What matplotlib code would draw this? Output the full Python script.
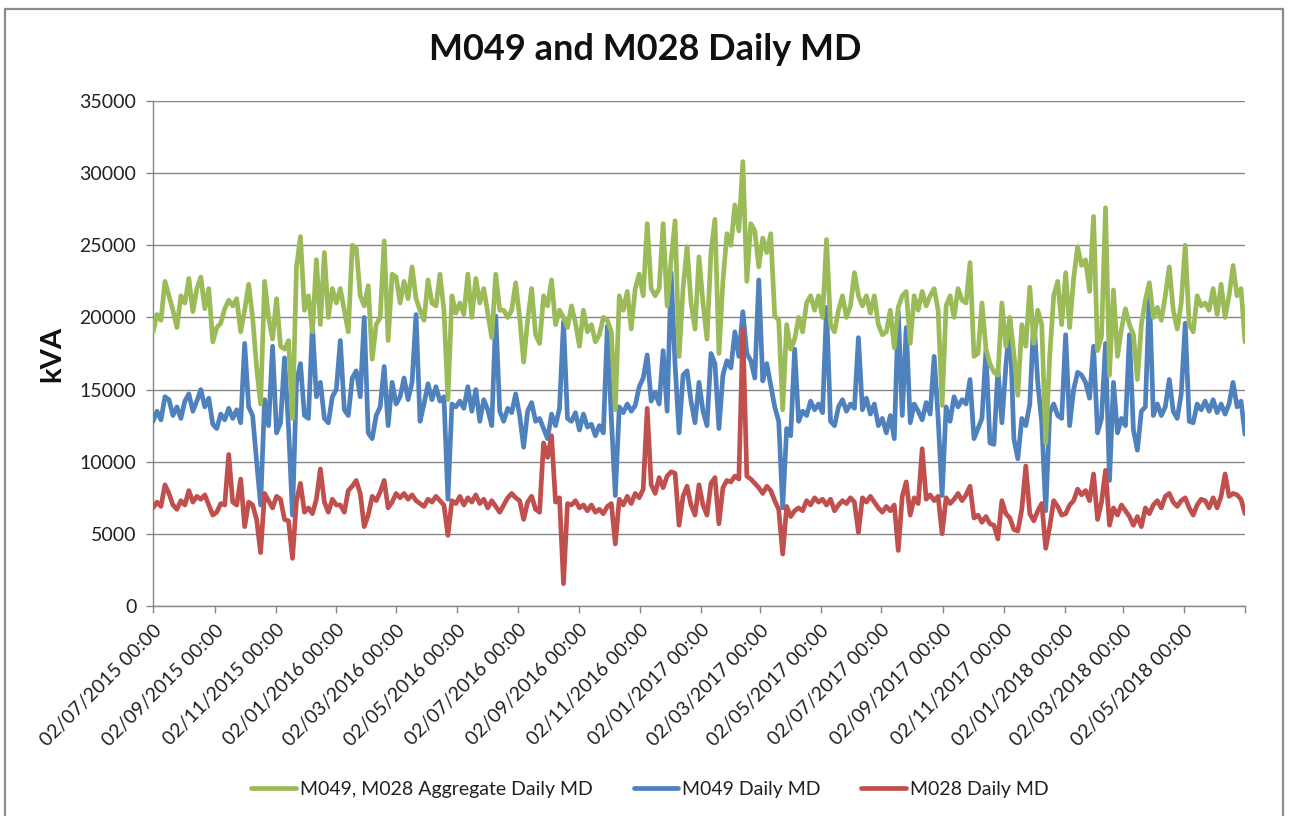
import matplotlib
matplotlib.use("Agg")
import matplotlib.pyplot as plt
import matplotlib.dates as mdates
import pandas as pd
from matplotlib.patches import Rectangle

plt.rcParams['font.family'] = ['Lato', 'DejaVu Sans']

# ---- data (kVA), one sample every 4 days starting 02/07/2015 ----
start_date = "2015-07-02"
end_date = "2018-07-02"
sample_step = "4D"

aggregate_md = [
    19000, 20200, 19800, 22500, 21500, 20500, 19300, 21500, 21000, 22700,
    20400, 22000, 22800, 20600, 22000, 18300, 19300, 19600, 20600, 21200,
    20800, 21300, 19000, 20500, 22300, 20000, 16500, 14000, 22500, 20000,
    18500, 21300, 18000, 17800, 18400, 13000, 23500, 25600, 20500, 21500,
    19000, 24000, 19500, 24500, 20000, 22000, 21000,
    22000, 20500, 19000, 25000, 24800, 21500, 20800, 22200, 17100, 19500,
    20000, 25300, 18400, 23000, 22800, 21000, 22500, 21300, 23500, 21300,
    20500, 19800, 22600, 21000, 20800, 23000, 20500, 14300, 21500, 20300,
    21000, 20200, 23000, 20000, 22700, 21000, 22000, 20300, 18600, 23000,
    20500, 20500, 20000, 20500,
    22400, 20000, 16900, 19800, 22000, 18800, 18200, 21500, 20800, 22600,
    19500, 20500, 20000, 19300, 20800, 19600, 18000, 20500, 19000, 19500,
    18300, 18800, 20000, 19800, 19000, 13600, 21500, 20500, 21800, 19200,
    22000, 23000, 21500, 26500, 22000, 21500, 22000, 26500, 20800, 24000,
    26700, 17300, 22000, 24900, 21000, 19200,
    24200, 21000, 18500, 24500, 26800, 17500, 22500, 25800, 25000, 27800,
    26000, 30800, 22500, 26500, 26000, 23500, 25500, 24500, 25800, 20100,
    19800, 13600, 19500, 17800, 18500, 20000, 19000, 21000, 21500, 20500,
    21500, 20000, 25400, 19500, 19000, 20500, 21500, 20000, 20800, 23100,
    21500, 20800, 21500, 20300,
    21500, 19500, 18800, 19000, 20500, 17900, 20700, 21500, 21800, 18200,
    21500, 20500, 21800, 20800, 21500, 22000, 20500, 13900, 20800, 21500,
    20000, 22000, 21200, 21000, 23800, 17300, 17500, 21000, 17800, 16800,
    16200, 16000, 21000, 18000, 20000, 17500, 14600, 19500, 18000, 22100,
    18200, 20500, 19500, 11300, 17300,
    21500, 22500, 19500, 23100, 19300, 22700, 24900, 23600, 24000, 21800,
    27000, 17700, 18700, 27600, 16000, 21900, 17300, 19200, 20600, 19500,
    18800, 15700, 19500, 21200, 22400, 20000, 20700, 19800, 21500, 23500,
    20500, 19200, 21000, 25000, 19500, 19000, 21500, 20800, 21000, 20500,
    22000, 20200, 22300, 20000, 21500, 23600, 21500, 22000, 18300,
]

m049_md = [
    12800, 13500, 12900, 14500, 14300, 13200, 13800, 13000, 14200, 14700,
    13500, 14200, 15000, 13800, 14400, 12600, 12300, 13300, 12900, 13700,
    13000, 13600, 12700, 18200, 13800, 13200, 10000, 7000, 14300, 12500,
    18000, 12000, 12700, 17200, 12400, 6300, 15500, 16800, 13200, 13000,
    19500, 14500, 15500, 13000, 12700, 14500, 15000,
    18400, 13600, 13200, 15800, 16300, 14500, 20000, 12000, 11600, 13200,
    13800, 16600, 12500, 15500, 14000, 14500, 15800, 14300, 15500, 20200,
    12800, 14000, 15400, 14300, 15200, 14200, 14500, 7400, 14000, 13800,
    14200, 13700, 15200, 13500, 15000, 12800, 14300, 13600, 12500, 20100,
    13500, 12800, 13700, 13400,
    14700, 13200, 11000, 13500, 14100, 12800, 13000, 12300, 11600, 13300,
    12500, 13700, 19700, 13000, 12800, 13400, 12200, 13300, 12400, 12600,
    11800, 12500, 12000, 19400, 13000, 7650, 13800, 13400, 14000, 13500,
    13900, 15200, 15800, 17400, 14200, 14800, 14000, 17700, 13500, 23100,
    16700, 12000, 16000, 16300, 14200, 12700,
    15500, 13500, 12500, 17500, 16800, 12300, 16000, 17000, 16500, 19000,
    17300, 20400, 17500, 17000, 15800, 22600, 15600, 16800, 15300, 13800,
    12800, 6800, 12300, 11800, 17800, 12800, 13500, 13200, 14200, 13600,
    14000, 13400, 20700, 12800, 12500, 13800, 14300, 13500, 14000, 13700,
    18600, 13600, 14400, 13300,
    14000, 12500, 13000, 12000, 13200, 11600, 20400, 13200, 19300, 12700,
    14000, 13500, 12900, 14100, 13300, 17300, 13000, 7650, 13800, 12800,
    14500, 13800, 14300, 14000, 15700, 11600, 12300, 13000, 17700, 11300,
    11200, 16400, 12700, 16600, 19900, 11600, 10200, 13000, 12500, 14000,
    19900, 15500, 12700, 6600, 13400,
    14000, 13200, 13000, 18800, 12500, 15000, 16200, 16000, 15500, 14400,
    18000, 12000, 13000, 18200, 8700, 15500, 12000, 13000, 12500, 18800,
    12200, 10800, 13500, 13800, 21800, 13200, 14000, 13200, 13800, 15700,
    13500, 13000, 14700, 19600, 12800, 12700, 14000, 13600, 14200, 13500,
    14300, 13400, 14000, 13300, 14000, 15500, 13800, 14200, 11900,
]

m028_md = [
    6800, 7200, 6900, 8400, 7800, 7000, 6700, 7300, 7000, 8000,
    7200, 7600, 7400, 7700, 7000, 6300, 6500, 7100, 7000, 10500,
    7200, 7000, 8800, 5500, 7200, 7000, 6000, 3700, 7800, 7300,
    6800, 7600, 7400, 6000, 5900, 3300, 7300, 8500, 6500, 6800,
    6400, 7400, 9500, 7200, 6500, 7400, 7000,
    7000, 6500, 8000, 8300, 8700, 7800, 5500, 6300, 7600, 7300,
    7900, 8700, 6800, 7200, 7800, 7500, 7800, 7400, 7700, 7300,
    7100, 6900, 7400, 7200, 7600, 7300, 7000, 4900, 7300, 7100,
    7600, 7000, 7500, 7200, 7700, 7100, 7400, 6800, 7300, 6900,
    6500, 7000, 7500, 7800,
    7500, 7300, 6000, 7200, 7600, 6700, 6500, 11300, 10300, 11800,
    7200, 7500, 1550, 7100, 7000, 7300, 6800, 7000, 6600, 7000,
    6500, 6700, 6400, 6900, 7100, 4300, 7400, 7000, 7600, 7100,
    7800, 7500, 8100, 13700, 8400, 7800, 8900, 8200, 9000, 9300,
    9200, 5600, 7600, 8300, 7000, 6300,
    8400, 7000, 6300, 8500, 8900, 5700, 8200, 8700, 8600, 9000,
    8800, 19200, 9000, 8800, 8500, 8200, 7800, 8300, 8000, 7300,
    6700, 3600, 6900, 6200, 6600, 6800, 6600, 7300, 7000, 7500,
    7200, 7400, 7000, 7400, 6600, 7000, 7300, 7100, 7500, 7200,
    5100, 7500, 7200, 7600,
    7200, 6800, 6500, 6900, 6600, 7000, 3850, 7600, 8600, 6300,
    7500, 7100, 10900, 7400, 7700, 7300, 7600, 5000, 7500, 7100,
    7400, 7800, 7300, 7700, 8300, 6100, 6300, 5800, 6200, 5700,
    5600, 4650, 7300, 6400, 6100, 5300, 5200, 6700, 9700, 6400,
    5900, 6600, 7100, 4000, 5500,
    7300, 6900, 6300, 6400, 7000, 7300, 8100, 7700, 8000, 7300,
    9150, 6000, 7200, 9400, 5600, 6800, 6300, 7000, 6600, 6200,
    5600, 6200, 5500, 6800, 6400, 7000, 7300, 6800, 7600, 7800,
    7200, 6900, 7300, 7500, 6800, 6300, 7000, 7400, 7300, 6800,
    7500, 6800, 7600, 9150, 7600, 7800, 7700, 7400, 6400,
]

series_names = ["M049, M028 Aggregate Daily MD", "M049 Daily MD", "M028 Daily MD"]
series_colors = ["#9BBB59", "#4F81BD", "#C0504D"]
y_ticks = [0, 5000, 10000, 15000, 20000, 25000, 30000, 35000]
title_text = "M049 and M028 Daily MD"
y_label = "kVA"

# ---- figure ----
W, H = 1290, 816
fig = plt.figure(figsize=(W / 100, H / 100), dpi=100)
fig.patch.set_facecolor("white")
fig.patches.append(Rectangle((5 / W, -0.02), (1283 - 5) / W, 1.02 - 9 / H,
                             transform=fig.transFigure, fill=False,
                             edgecolor="#8c8c8c", linewidth=1.6))

ax = fig.add_axes([153 / W, 1 - 606 / H, (1245 - 153) / W, (606 - 101) / H])

def dates_for(vals):
    return pd.date_range(start_date, periods=len(vals), freq=sample_step)

lw = 3.4
l_blue, = ax.plot(dates_for(m049_md), m049_md, color=series_colors[1], lw=lw,
                  zorder=3, solid_joinstyle="round", solid_capstyle="round")
l_red, = ax.plot(dates_for(m028_md), m028_md, color=series_colors[2], lw=lw,
                 zorder=4, solid_joinstyle="round", solid_capstyle="round")
l_green, = ax.plot(dates_for(aggregate_md), aggregate_md, color=series_colors[0], lw=lw,
                   zorder=5, solid_joinstyle="round", solid_capstyle="round")

ax.set_ylim(0, 35000)
ax.set_yticks(y_ticks)
ax.set_yticklabels([str(v) for v in y_ticks])
ax.set_xlim(pd.Timestamp(start_date), pd.Timestamp(end_date))

tick_dates = pd.date_range(start_date, end_date, freq=pd.DateOffset(months=2))
ax.set_xticks(tick_dates)
labels = [d.strftime("%d/%m/%Y %H:%M") for d in tick_dates]
labels[-1] = ""
ax.set_xticklabels(labels, rotation=45, ha="right", va="top",
                   rotation_mode="anchor")

ax.grid(axis="y", color="#868686", linewidth=1.0)
ax.set_axisbelow(True)
for s in ["top", "right"]:
    ax.spines[s].set_visible(False)
for s in ["left", "bottom"]:
    ax.spines[s].set_color("#868686")
    ax.spines[s].set_linewidth(1.0)
ax.tick_params(axis="both", colors="#868686", length=5, width=1.0,
               labelcolor="#222222", labelsize=14)
ax.tick_params(axis="x", pad=6)
ax.tick_params(axis="y", pad=7)

ax.set_ylabel(y_label, fontsize=21, fontweight="bold", labelpad=10, color="#111111")
fig.text(645 / W, 1 - 50 / H, title_text, ha="center", va="center",
         fontsize=26, fontweight="bold", color="#111111")

leg = fig.legend([l_green, l_blue, l_red], series_names, loc="center",
                 bbox_to_anchor=(650 / W, 1 - 789 / H), ncol=3, frameon=False,
                 fontsize=14, handlelength=2.3, handletextpad=0.2,
                 columnspacing=2.1)
for t in leg.get_texts():
    t.set_color("#222222")

fig.savefig("out.png", dpi=100, facecolor="white")
